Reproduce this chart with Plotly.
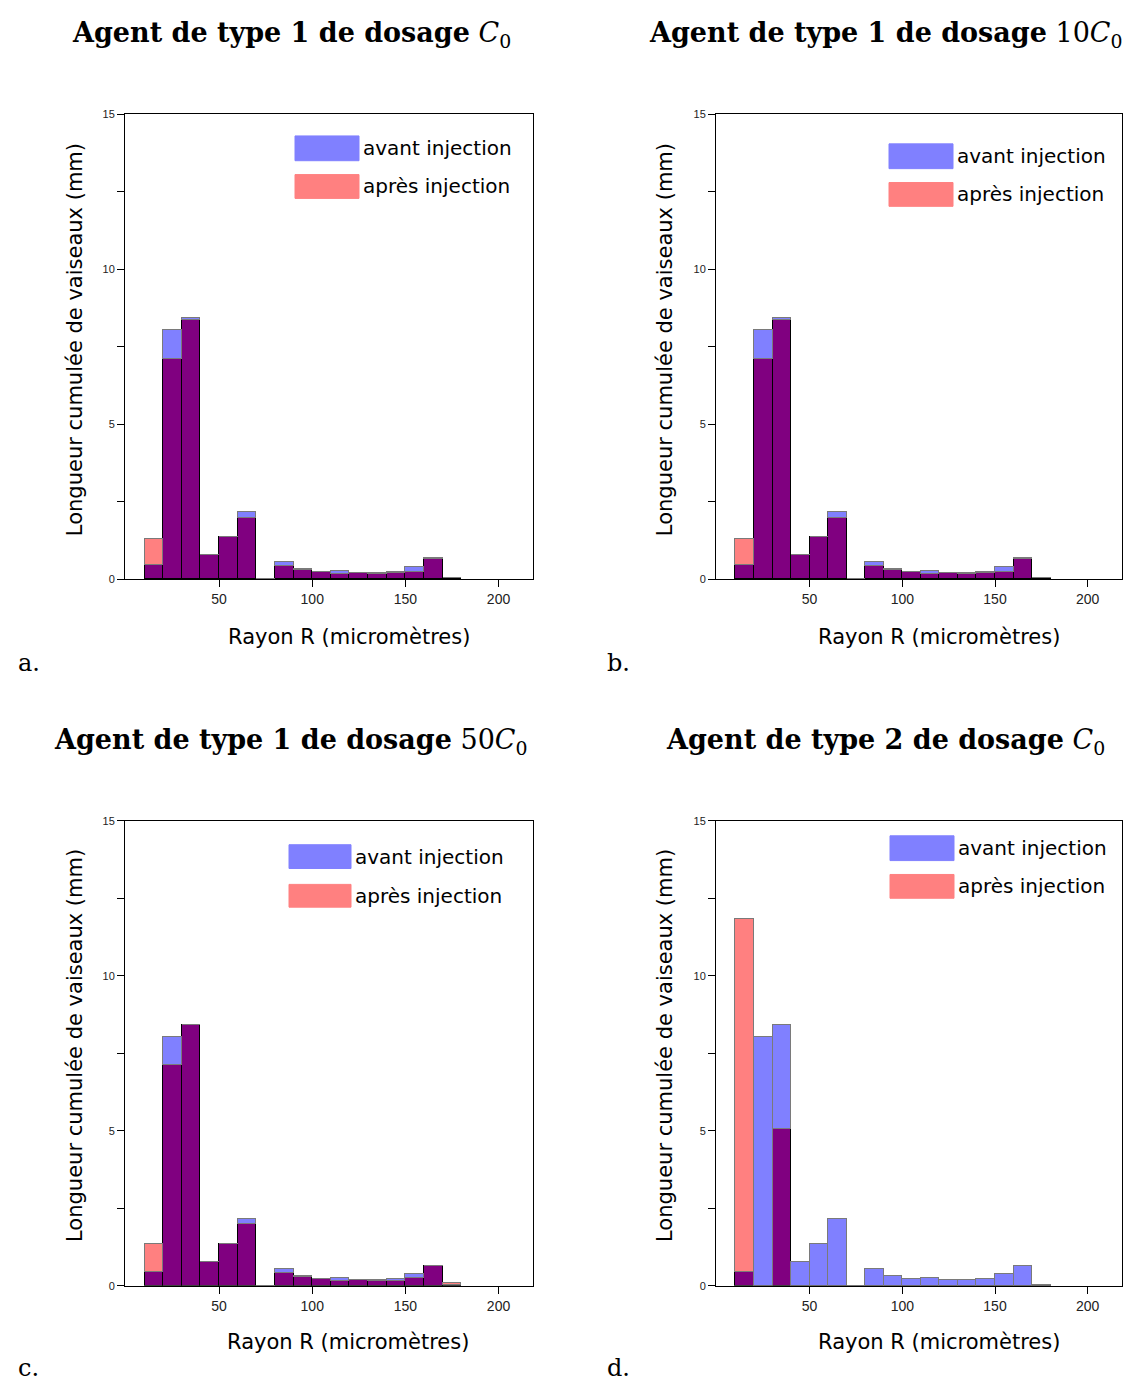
import numpy as np
import plotly.graph_objects as go

W, H = 1131, 1382

# ---------------- data ----------------
bin_centers = [15, 25, 35, 45, 55, 65, 75, 85, 95, 105, 115, 125, 135, 145, 155, 165, 175]
bin_width = 10

avant_injection = [0.46, 8.03, 8.42, 0.77, 1.34, 2.16, 0.0, 0.56, 0.33, 0.23, 0.24, 0.20, 0.18, 0.23, 0.37, 0.64, 0.02]
apres_type1_C0 = [1.30, 7.08, 8.34, 0.77, 1.34, 1.96, 0.0, 0.42, 0.29, 0.21, 0.16, 0.19, 0.15, 0.20, 0.21, 0.68, 0.02]
apres_type1_10C0 = [1.30, 7.08, 8.34, 0.77, 1.34, 1.96, 0.0, 0.42, 0.29, 0.21, 0.16, 0.19, 0.15, 0.20, 0.21, 0.68, 0.02]
apres_type1_50C0 = [1.34, 7.13, 8.43, 0.77, 1.34, 2.01, 0.0, 0.43, 0.30, 0.23, 0.16, 0.20, 0.17, 0.16, 0.25, 0.64, 0.11]
apres_type2_C0 = [11.84, 0.0, 5.07, 0.0, 0.0, 0.0, 0.0, 0.0, 0.0, 0.0, 0.0, 0.0, 0.0, 0.0, 0.0, 0.0, 0.0]

titles = [
    "<b>Agent de type 1 de dosage</b> <i>C</i><sub>0</sub>",
    "<b>Agent de type 1 de dosage</b> 10<i>C</i><sub>0</sub>",
    "<b>Agent de type 1 de dosage</b> 50<i>C</i><sub>0</sub>",
    "<b>Agent de type 2 de dosage</b> <i>C</i><sub>0</sub>",
]
panel_letters = ["a.", "b.", "c.", "d."]
legend_labels = ["avant injection", "après injection"]
x_title = "Rayon R (micromètres)"
y_title = "Longueur cumulée de vaiseaux (mm)"
x_tick_vals = [50, 100, 150, 200]
y_tick_vals = [0, 5, 10, 15]
y_minor_tick_vals = [2.5, 7.5, 12.5]

apres_series = [apres_type1_C0, apres_type1_10C0, apres_type1_50C0, apres_type2_C0]

# ---------------- layout geometry (pixels) ----------------
panels = [
    dict(box=(117, 525, 101, 570), title=(283, 21), letter=(8, 655), ytitle=(67, 329), xtitle=(341, 628),
         leg=(287, 351, 123, 148, 162, 186)),
    dict(box=(708, 1114, 101, 570), title=(878, 21), letter=(597, 655), ytitle=(657, 329), xtitle=(931, 628),
         leg=(881, 945, 131, 156, 170, 194)),
    dict(box=(117, 525, 814, 1283), title=(283, 734), letter=(8, 1366), ytitle=(67, 1041), xtitle=(340, 1340),
         leg=(281, 343, 838, 862, 878, 901)),
    dict(box=(708, 1114, 814, 1283), title=(878, 734), letter=(597, 1366), ytitle=(657, 1041), xtitle=(931, 1340),
         leg=(882, 946, 829, 854, 868, 892)),
]

BLUE = "#8080FF"
RED = "#FF8080"
PURPLE = "#800080"


def px(x):
    return x / W


def py(y):
    return 1 - y / H


fig = go.Figure()
annotations = []
shapes = []

for i, (apres, p) in enumerate(zip(apres_series, panels)):
    k = "" if i == 0 else str(i + 1)
    xa, ya = "x" + k, "y" + k
    av = np.array(avant_injection)
    ap = np.array(apres)
    overlap = np.minimum(av, ap)
    extra_av = av - overlap
    extra_ap = ap - overlap

    fig.add_trace(go.Bar(x=bin_centers, y=overlap, width=bin_width, marker=dict(color=PURPLE, line=dict(color="#000000", width=1)),
                         xaxis=xa, yaxis=ya, showlegend=False, hoverinfo="skip"))
    fig.add_trace(go.Bar(x=bin_centers, y=extra_av, width=bin_width, marker=dict(color=BLUE, line=dict(color="#7a7a7a", width=1)),
                         xaxis=xa, yaxis=ya, showlegend=False, name=legend_labels[0]))
    fig.add_trace(go.Bar(x=bin_centers, y=extra_ap, width=bin_width, marker=dict(color=RED, line=dict(color="#7a7a7a", width=1)),
                         xaxis=xa, yaxis=ya, showlegend=False, name=legend_labels[1]))

    x0, x1, y0, y1 = p["box"]
    axis_common = dict(showline=True, mirror=True, linecolor="#000000", linewidth=1, showgrid=False, zeroline=False,
                       ticks="outside", ticklen=7, tickcolor="#000000")
    fig.update_layout(**{
        ("xaxis" + k): dict(domain=[px(x0), px(x1)], range=[-0.5, 218.5], anchor=ya,
                            tickvals=x_tick_vals, tickfont=dict(family="Liberation Sans", size=14, color="#222222"),
                            **axis_common),
        ("yaxis" + k): dict(domain=[py(y1), py(y0)], range=[0, 15], anchor=xa,
                            tickvals=y_tick_vals,
                            minor=dict(tickvals=y_minor_tick_vals, ticks="outside", ticklen=7, tickcolor="#000000"),
                            tickfont=dict(family="Liberation Sans", size=11, color="#222222"),
                            **axis_common),
    })

    # title
    tx, ty = p["title"]
    annotations.append(dict(x=px(tx), y=py(ty), xref="paper", yref="paper", text=titles[i], showarrow=False,
                            xanchor="center", yanchor="middle",
                            font=dict(family="DejaVu Serif", size=27, color="#000000")))
    # panel letter
    lx, ly = p["letter"]
    annotations.append(dict(x=px(lx), y=py(ly), xref="paper", yref="paper", text=panel_letters[i], showarrow=False,
                            xanchor="left", yanchor="middle",
                            font=dict(family="DejaVu Serif", size=24, color="#000000")))
    # axis titles
    yx, yy = p["ytitle"]
    annotations.append(dict(x=px(yx), y=py(yy), xref="paper", yref="paper", text=y_title, showarrow=False,
                            textangle=-90, xanchor="center", yanchor="middle",
                            font=dict(family="DejaVu Sans", size=21, color="#000000")))
    xx, xy = p["xtitle"]
    annotations.append(dict(x=px(xx), y=py(xy), xref="paper", yref="paper", text=x_title, showarrow=False,
                            xanchor="center", yanchor="middle",
                            font=dict(family="DejaVu Sans", size=21, color="#000000")))
    # legend (swatches + labels)
    sx0, sx1, b0, b1, r0, r1 = p["leg"]
    for (t0, t1), col, lab in [((b0, b1), BLUE, legend_labels[0]), ((r0, r1), RED, legend_labels[1])]:
        shapes.append(dict(type="rect", xref="paper", yref="paper", x0=px(sx0), x1=px(sx1), y0=py(t1), y1=py(t0),
                           fillcolor=col, line=dict(color=col, width=1), layer="above"))
        annotations.append(dict(x=px(sx1 + 2), y=py((t0 + t1) / 2), xref="paper", yref="paper", text=lab,
                                showarrow=False, xanchor="left", yanchor="middle",
                                font=dict(family="DejaVu Sans", size=20, color="#000000")))

fig.update_layout(
    width=W, height=H, margin=dict(l=0, r=0, t=0, b=0),
    paper_bgcolor="white", plot_bgcolor="white",
    barmode="stack", bargap=0, showlegend=False,
    annotations=annotations, shapes=shapes,
)

fig.write_html("out.html")
